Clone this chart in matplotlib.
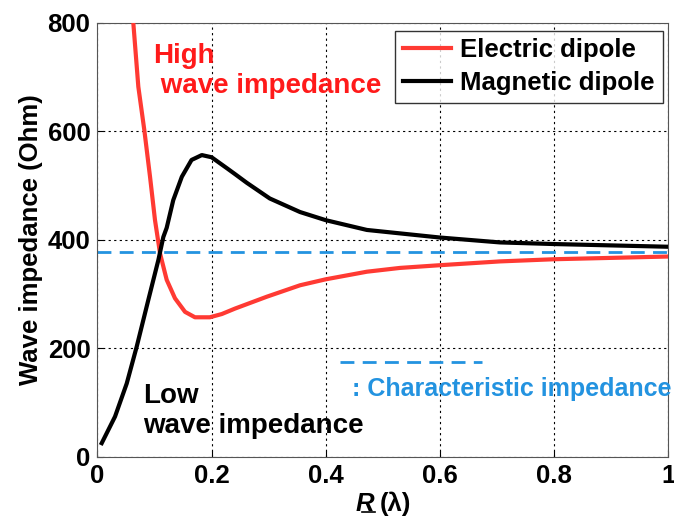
import matplotlib

matplotlib.use("Agg")
import matplotlib.pyplot as plt
from matplotlib.lines import Line2D

# values
r_electric = [0.063, 0.0718, 0.0823, 0.0923, 0.101, 0.1098, 0.1186, 0.1215, 0.136,
              0.1536, 0.171, 0.197, 0.218, 0.241, 0.297, 0.355, 0.4, 0.472, 0.53,
              0.6, 0.705, 0.8, 1.0]
z_electric = [800, 682, 602, 516, 436, 375, 338, 326, 292,
              267, 257, 257, 263, 273, 295, 316, 327, 341, 348,
              353, 360, 364, 369]

r_magnetic = [0.0077, 0.031, 0.0515, 0.069, 0.0893, 0.107, 0.1156, 0.1215, 0.133,
              0.148, 0.165, 0.183, 0.2, 0.2266, 0.241, 0.2616, 0.302, 0.355, 0.4,
              0.472, 0.6, 0.705, 0.8, 1.0]
z_magnetic = [25, 74, 135, 203, 289, 363, 405, 422, 473,
              516, 547, 556, 552, 532, 521, 505, 476, 451, 436,
              418, 404, 395, 392, 387]

z_char = 377
char_key_r = [0.425, 0.673]
char_key_z = [175, 175]

RED = "#ff3a33"
BLUE = "#2393e0"
FONT = "Liberation Sans"

plt.rcParams["font.family"] = FONT
plt.rcParams["font.weight"] = "bold"

fig = plt.figure(figsize=(6.74, 5.18), dpi=100)
ax = fig.add_axes([0.1444, 0.1183, 0.8472, 0.8379])

ax.plot(r_electric, z_electric, color=RED, lw=3, zorder=3, solid_joinstyle="round")
ax.plot(r_magnetic, z_magnetic, color="black", lw=3, zorder=3, solid_joinstyle="round")
ax.axhline(z_char, color=BLUE, lw=2, ls=(0, (5, 3)), zorder=2)
ax.plot(char_key_r, char_key_z, color=BLUE, lw=2, ls=(0, (5, 3)))

ax.set_xlim(0, 1)
ax.set_ylim(0, 800)
ax.set_xticks([0, 0.2, 0.4, 0.6, 0.8, 1])
ax.set_xticklabels(["0", "0.2", "0.4", "0.6", "0.8", "1"])
ax.set_yticks([0, 200, 400, 600, 800])
ax.tick_params(direction="in", labelsize=18.5, length=4, pad=5)
ax.grid(True, color="black", ls=(0, (2, 3)), lw=0.8)
for s in ax.spines.values():
    s.set_color("#555555")

ax.set_ylabel("Wave impedance (Ohm)", fontsize=18.5, fontweight="bold", labelpad=3)

ax.text(0.0975, 762, "High\n wave impedance", color="#ff1a1a", fontsize=20,
        fontweight="bold", va="top", ha="left", linespacing=1.2)
ax.text(0.0806, 136, "Low\nwave impedance", color="black", fontsize=20,
        fontweight="bold", va="top", ha="left", linespacing=1.2)
ax.text(0.4455, 111, ": Characteristic impedance", color=BLUE, fontsize=18,
        fontweight="bold", va="baseline", ha="left", clip_on=False)

handles = [Line2D([], [], color=RED, lw=3), Line2D([], [], color="black", lw=3)]
leg = ax.legend(handles, ["Electric dipole", "Magnetic dipole"], loc="upper right",
                fontsize=18.5, frameon=True, fancybox=False, handlelength=1.9,
                handletextpad=0.35, borderpad=0.3, labelspacing=0.35,
                borderaxespad=0.0, bbox_to_anchor=(0.99, 0.982))
leg.get_frame().set_edgecolor("black")
leg.get_frame().set_linewidth(1.0)

# x label: underlined italic R followed by (lambda)
fig.text(0.527, 0.003, "R", fontsize=18.5, fontweight="bold", style="italic",
         ha="left", va="bottom")
fig.text(0.564, 0.003, "(\u03bb)", fontsize=18.5, fontweight="bold",
         ha="left", va="bottom", family=["Liberation Sans", "DejaVu Sans"])
fig.add_artist(Line2D([0.537, 0.556], [0.012, 0.012], color="black", lw=1.2,
                      transform=fig.transFigure))

fig.savefig("out.png", dpi=100)
